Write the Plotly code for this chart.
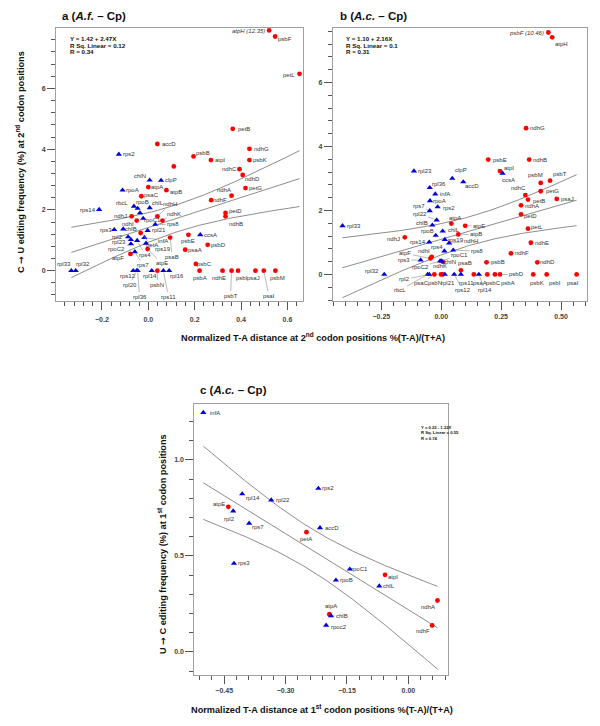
import numpy as np
import plotly.graph_objects as go

FONT = "Liberation Sans, Arial, sans-serif"
RED = "#ff0000"
BLUE = "#0000dd"

# ---------------- Panel a (A.f. - Cp), 2nd codon positions ----------------
a_genes = ["atpH (12.35)", "psbF", "petL", "petB", "accD", "ndhG", "psbB", "atpI", "psbK", "",
           "ndhC", "ndhD", "atpA", "petG", "atpB", "ndhA", "psaC", "ndhF", "petD", "ndhJ",
           "ndhH", "ndhB", "ndhI", "ndhK", "petA", "psbE", "psaB", "psbD", "atpE", "psaA",
           "atpF", "psbC", "psbN", "psbA", "ndhE", "psbT", "psbI", "psaJ", "psaI", "psbM",
           "rps2", "chlN", "clpP", "rpoA", "rpoB", "rbcL", "chlL", "rps14", "", "rpoC1",
           "rps8", "chlB", "rps3", "rpl21", "rpl2", "infA", "rpl23", "rps4", "rps19", "rpoC2",
           "ccsA", "rps7", "rpl33", "rpl32", "rps12", "rpl20", "rpl36", "rpl14", "rps11", "rpl16"]
a_x = [0.521, 0.547, 0.652, 0.364, 0.039, 0.436, 0.195, 0.270, 0.436, 0.110,
       0.393, 0.407, 0.000, 0.419, 0.078, 0.359, -0.030, 0.271, 0.333, -0.072,
       0.039, 0.333, -0.050, 0.061, -0.033, 0.173, 0.094, 0.256, -0.003, 0.159,
       -0.077, 0.205, 0.039, 0.221, 0.320, 0.359, 0.387, 0.462, 0.498, 0.548,
       -0.127, 0.006, 0.055, -0.111, -0.046, -0.062, 0.006, -0.212, -0.036, -0.022,
       0.030, -0.108, -0.147, -0.003, -0.087, -0.017, -0.075, -0.048, -0.010, -0.075,
       0.224, -0.058, -0.332, -0.313, -0.065, -0.050, -0.046, 0.015, 0.065, 0.090]
a_y = [7.91, 7.71, 6.48, 4.67, 4.17, 4.01, 3.76, 3.64, 3.64, 3.43,
       3.34, 3.15, 2.75, 2.72, 2.65, 2.47, 2.45, 2.32, 1.90, 1.79,
       1.79, 1.79, 1.65, 1.65, 1.24, 1.18, 1.09, 0.85, 0.71, 0.69,
       0.55, 0.22, 0.0, 0.0, 0.0, 0.0, 0.0, 0.0, 0.0, 0.0,
       3.83, 2.98, 2.97, 2.65, 2.05, 2.12, 2.07, 2.01, 1.90, 1.72,
       1.52, 1.37, 1.35, 1.32, 1.11, 1.09, 1.02, 0.99, 0.90, 0.88,
       1.18, 0.62, 0.0, 0.0, 0.0, 0.0, 0.0, 0.0, 0.0, 0.0]
a_type = ["P"] * 40 + ["G"] * 30
a_stats = ["Y = 1.42 + 2.47X", "R Sq. Linear = 0.12", "R = 0.34"]
a_fit = (1.42, 2.47)

# ---------------- Panel b (A.c. - Cp), 2nd codon positions ----------------
b_genes = ["psbF (10.46)", "atpH", "ndhG", "psbE", "ndhB", "atpI", "psbT", "psbM", "petG", "ndhC",
           "psaJ", "petB", "ndhA", "petD", "atpA", "atpE", "petL", "atpB", "ndhJ", "ndhE",
           "ndhF", "ndhI", "atpF", "chlN", "ndhD", "psbB", "psaB", "psaC", "psbN", "ndhK",
           "psaA", "psbC", "psbA", "psbD", "psbK", "psbI", "psaI",
           "ccsA", "rpl23", "clpP", "accD", "rpl36", "infA", "rpoA", "rps2", "rps7", "rpl22",
           "rpl33", "chlB", "chlL", "rpoB", "rps19", "rps14", "ndhH", "rps8", "rps4", "rps3",
           "rpoC2", "rpoC1", "rpl32", "rbcL", "rpl2", "rpl21", "rps12", "rps11", "rpl14"]
b_x = [0.447, 0.463, 0.354, 0.196, 0.367, 0.245, 0.454, 0.415, 0.415, 0.351,
       0.482, 0.362, 0.333, 0.333, 0.042, 0.100, 0.362, 0.071, -0.152, 0.374,
       0.291, -0.040, -0.045, 0.008, 0.401, 0.189, 0.082, -0.029, -0.001, 0.006,
       0.136, 0.192, 0.224, 0.245, 0.384, 0.440, 0.565,
       0.256, -0.114, 0.046, 0.092, -0.048, -0.025, -0.047, -0.015, -0.048, -0.019,
       -0.412, -0.037, 0.006, -0.023, 0.015, -0.050, 0.033, 0.050, 0.013, -0.086,
       -0.005, 0.002, -0.238, -0.057, -0.050, 0.015, 0.054, 0.082, 0.157]
b_y = [7.56, 7.41, 4.57, 3.59, 3.59, 3.23, 2.93, 2.86, 2.60, 2.48,
       2.36, 2.34, 2.16, 1.88, 1.59, 1.52, 1.43, 1.25, 1.16, 0.99,
       0.66, 0.55, 0.50, 0.39, 0.38, 0.38, 0.13, 0.0, 0.0, 0.0,
       0.0, 0.0, 0.0, 0.0, 0.0, 0.0, 0.0,
       3.16, 3.23, 3.00, 2.89, 2.71, 2.51, 2.30, 2.11, 1.99, 1.70,
       1.52, 1.54, 1.35, 1.22, 1.09, 1.01, 0.98, 0.76, 0.73, 0.45,
       0.42, 0.42, 0.0, 0.0, 0.0, 0.0, 0.0, 0.0, 0.0]
b_type = ["P"] * 37 + ["G"] * 29
b_stats = ["Y = 1.10 + 2.16X", "R Sq. Linear = 0.1", "R = 0.31"]
b_fit = (1.10, 2.16)

# ---------------- Panel c (A.c. - Cp), 1st codon positions ----------------
c_genes = ["infA", "rps2", "rpl14", "rpl22", "rpl2", "rps7", "accD", "rps3", "rpoC1", "rpoB",
           "chlL", "chlB", "rpoc2", "atpE", "petA", "atpI", "atpA", "ndhA", "ndhF"]
c_x = [-0.501, -0.220, -0.406, -0.335, -0.428, -0.389, -0.216, -0.426, -0.143, -0.177,
       -0.071, -0.189, -0.201, -0.440, -0.249, -0.057, -0.193, 0.071, 0.058]
c_y = [1.247, 0.852, 0.823, 0.791, 0.734, 0.670, 0.647, 0.461, 0.431, 0.374,
       0.343, 0.188, 0.139, 0.756, 0.624, 0.402, 0.197, 0.268, 0.138]
c_type = ["G"] * 13 + ["P"] * 6
c_stats = ["Y = 0.22 - 1.32X", "R Sq. Linear = 0.55", "R = 0.74"]
c_fit = (0.22, -1.32)

# confidence band shape (centre, base variance, curvature) per panel
bands = {"a": (0.125, 0.20, 2.33), "b": (0.13, 0.20, 2.30), "c": (-0.24, 0.012, 0.357)}

# ---------------- label placement (pixel offsets, leader line) ----------------
a_lab = {
    "atpH (12.35)": (-21, 1, 0), "psbF": (10, 3, 0), "petL": (-11, 1, 0), "petB": (11, 0, 0),
    "accD": (12, 0, 0), "ndhG": (12, 0, 0), "psbB": (9, -3, 0), "atpI": (9, 0, 0),
    "psbK": (11, 0, 0), "ndhC": (-10, 0, 0), "ndhD": (10, 4, 0), "atpA": (9, 0, 0),
    "petG": (10, 0, 0), "atpB": (10, 2, 0), "ndhA": (-8, -6, 0), "psaC": (10, -1, 0),
    "ndhF": (9, 0, 0), "petD": (10, -2, 0), "ndhJ": (-11, 0, 0), "ndhH": (13, -12, 1),
    "ndhB": (10, 8, 0), "ndhI": (-9, 3, 0), "ndhK": (12, -7, 1), "petA": (11, 12, 1),
    "psbE": (0, 6, 0), "psaB": (2, 19, 1), "psbD": (11, 0, 0), "atpE": (14, 14, 1),
    "psaA": (10, 0, 0), "atpF": (-12, 4, 0), "psbC": (9, 0, 0), "psbN": (0, 14, 1),
    "psbA": (0, 7, 0), "ndhE": (-4, 7, 0), "psbT": (-1, 25, 1), "psbI": (4, 7, 0),
    "psaJ": (-2, 7, 0), "psaI": (5, 25, 1), "psbM": (2, 7, 0),
    "rps2": (10, 0, 0), "chlN": (-10, -4, 0), "clpP": (10, 0, 0), "rpoA": (10, 0, 0),
    "rpoB": (5, -6, 0), "rbcL": (-12, -3, 0), "chlL": (8, -5, 0), "rps14": (-11, 0, 0),
    "rpoC1": (9, 2, 0), "rps8": (18, 0, 1), "chlB": (8, 0, 0), "rps3": (-8, 0, 0),
    "rpl21": (11, -1, 1), "rpl2": (-11, 0, 0), "infA": (19, 3, 1), "rpl23": (-12, 2, 1),
    "rps4": (8, 14, 1), "rps19": (17, 6, 1), "rpoC2": (-14, 5, 1), "ccsA": (10, 0, 0),
    "rps7": (8, 13, 1), "rpl33": (-7, -7, 0), "rpl32": (7, -7, 0), "rps12": (-5, 5, 0),
    "rpl20": (-7, 14, 1), "rpl36": (2, 26, 1), "rpl14": (-2, 5, 0), "rps11": (5, 26, 1),
    "rpl16": (8, 5, 0),
}
b_lab = {
    "psbF (10.46)": (-22, 1, 0), "atpH": (9, 7, 0), "ndhG": (11, 0, 0), "psbE": (12, 0, 0),
    "ndhB": (11, 0, 0), "atpI": (9, -3, 0), "psbT": (10, -7, 0), "psbM": (-5, -8, 0),
    "petG": (12, 0, 0), "ndhC": (-7, -7, 0), "psaJ": (11, 0, 0), "petB": (11, 1, 0),
    "ndhA": (11, 1, 0), "petD": (9, 2, 0), "atpA": (4, -6, 0), "atpE": (14, 0, 1),
    "petL": (9, -2, 0), "atpB": (18, 0, 1), "ndhJ": (-11, 2, 0), "ndhE": (11, 0, 0),
    "ndhF": (11, 0, 0), "ndhI": (-8, -6, 0), "atpF": (-25, -5, 1), "chlN": (7, 0, 0),
    "ndhD": (10, 0, 0), "psbB": (11, 0, 0), "psaB": (4, -7, 0), "psaC": (-13, 9, 1),
    "psbN": (-6, 9, 0), "ndhK": (-3, -8, 0), "psaA": (6, 9, 0), "psbC": (6, 9, 0),
    "psbA": (13, 9, 1), "psbD": (17, 0, 1), "psbK": (4, 9, 0), "psbI": (8, 9, 0),
    "psaI": (-4, 9, 0),
    "ccsA": (6, 7, 0), "rpl23": (11, 0, 0), "clpP": (9, -8, 0), "accD": (9, 4, 0),
    "rpl36": (9, -4, 0), "infA": (10, 0, 0), "rpoA": (10, 0, 0), "rps2": (11, 1, 0),
    "rps7": (-11, -5, 1), "rpl22": (-17, -6, 1), "rpl33": (11, 0, 0), "chlB": (-10, -2, 0),
    "chlL": (11, -1, 1), "rpoB": (-8, -4, 0), "rps19": (11, 0, 0), "rps14": (-11, 0, 0),
    "ndhH": (22, -2, 1), "rps8": (24, 1, 1), "rps4": (-7, -4, 0), "rps3": (-17, 0, 1),
    "rpoC2": (-20, 6, 1), "rpoC1": (18, -6, 1), "rpl32": (-12, -3, 0), "rbcL": (-28, 16, 1),
    "rpl2": (-25, 5, 1), "rpl21": (3, 9, 0), "rps12": (9, 16, 1), "rps11": (6, 9, 0),
    "rpl14": (6, 16, 1),
}
c_lab = {
    "infA": (12, 0, 0), "rps2": (10, 0, 0), "rpl14": (11, 4, 0), "rpl22": (12, 0, 0),
    "rpl2": (-4, 8, 0), "rps7": (9, 4, 0), "accD": (12, 0, 0), "rps3": (10, 0, 0),
    "rpoC1": (10, 0, 0), "rpoB": (11, 0, 0), "chlL": (10, 0, 0), "chlB": (11, 0, 1),
    "rpoc2": (13, 2, 0), "atpE": (-9, -3, 0), "petA": (0, 7, 0), "atpI": (8, 2, 0),
    "atpA": (2, -8, 0), "ndhA": (-9, 6, 0), "ndhF": (-9, 6, 0),
}
italic_labels = {"atpH (12.35)", "psbF (10.46)"}

fig = go.Figure()
annotations = []


def add_panel(key, xs, ys, types, genes, labels, fit, xa, ya):
    xr = "x" if xa == 1 else "x%d" % xa
    yr = "y" if ya == 1 else "y%d" % ya
    xs = np.array(xs)
    ys = np.array(ys)
    # regression line + confidence curves
    xm, c0, c1 = bands[key]
    xl = np.linspace(xs.min(), xs.max(), 120)
    yl = fit[0] + fit[1] * xl
    w = np.sqrt(c0 + c1 * (xl - xm) ** 2)
    for yy in (yl + w, yl, yl - w):
        fig.add_trace(go.Scatter(x=xl, y=yy, mode="lines", xaxis=xr, yaxis=yr,
                                 line=dict(color="#707070", width=0.8), hoverinfo="skip"))
    t = np.array(types)
    for kind, col, sym, sz in (("P", RED, "circle", 4.8), ("G", BLUE, "triangle-up", 5.5)):
        m = t == kind
        fig.add_trace(go.Scatter(x=xs[m], y=ys[m], mode="markers", xaxis=xr, yaxis=yr,
                                 marker=dict(color=col, symbol=sym, size=sz, line=dict(width=0))))
    for g, x, y in zip(genes, xs, ys):
        if not g or g not in labels:
            continue
        dx, dy, lead = labels[g]
        txt = "<i>%s</i>" % g if g in italic_labels else g
        annotations.append(dict(
            x=x, y=y, xref=xr, yref=yr, text=txt, showarrow=True, ax=dx, ay=dy,
            arrowhead=0, arrowwidth=0.6, standoff=2,
            arrowcolor="#8a8a8a" if lead else "rgba(0,0,0,0)",
            font=dict(family=FONT, size=6, color="#333333")))


add_panel("a", a_x, a_y, a_type, a_genes, a_lab, a_fit, 1, 1)
add_panel("b", b_x, b_y, b_type, b_genes, b_lab, b_fit, 2, 2)
add_panel("c", c_x, c_y, c_type, c_genes, c_lab, c_fit, 3, 3)


def axis(rng, dtick, mdtick, fmt, domain, anchor, standoff=0):
    return dict(range=rng, domain=domain, anchor=anchor, dtick=dtick, tick0=0, tickformat=fmt,
                showgrid=False, zeroline=False, showline=True, linecolor="#a0a0a0",
                linewidth=1, mirror=True, ticks="outside", ticklen=8, tickwidth=1,
                tickcolor="#555555", ticklabelstandoff=standoff,
                minor=dict(dtick=mdtick, tick0=0, ticks="outside", ticklen=4,
                           tickwidth=1, tickcolor="#555555", showgrid=False),
                tickfont=dict(family=FONT, size=7, color="#444444", weight="bold"))


H = 726.0
W = 600.0


def px_x(p):
    return p / W


def px_y(p):
    return 1 - p / H


fig.update_layout(
    width=600, height=726, margin=dict(l=0, r=0, t=0, b=0),
    paper_bgcolor="white", plot_bgcolor="white", showlegend=False,
    xaxis=axis([-0.398, 0.667], 0.2, 0.04, ".1f", [px_x(56), px_x(303)], "y", 4),
    yaxis=axis([-1.0, 7.99], 2, 0.4, ".0f", [px_y(301), px_y(28)], "x"),
    xaxis2=axis([-0.453, 0.607], 0.25, 0.05, ".2f", [px_x(332.7), px_x(586.7)], "y2", 1),
    yaxis2=axis([-0.82, 7.7], 2, 0.4, ".0f", [px_y(300.7), px_y(28)], "x2"),
    xaxis3=axis([-0.523, 0.096], 0.15, 0.03, ".2f", [px_x(194.3), px_x(447.7)], "y3", 1),
    yaxis3=axis([-0.12, 1.29], 0.5, 0.1, ".1f", [px_y(675), px_y(404.3)], "x3"),
)


def paper_text(text, x, y, size, xanchor="left", angle=0, bold=True):
    annotations.append(dict(
        text="<b>%s</b>" % text if bold else text, x=px_x(x), y=px_y(y),
        xref="paper", yref="paper", showarrow=False, xanchor=xanchor, yanchor="middle",
        textangle=angle, font=dict(family=FONT, size=size, color="#111111")))


ARROW = "<span style='font-family:DejaVu Sans'>→</span>"

# panel titles
paper_text("a (<i>A.f.</i> – Cp)", 60, 16, 11.5)
paper_text("b (<i>A.c.</i> – Cp)", 338, 16, 11.5)
paper_text("c (<i>A.c.</i> – Cp)", 198, 390, 11.5)

# axis titles
paper_text("Normalized T-A distance at 2<sup>nd</sup> codon positions %(T-A)/(T+A)", 313, 337, 9.2, "center")
paper_text("C " + ARROW + " U editing frequency (%) at 2<sup>nd</sup> codon positions", 20, 162, 9.2, "center", -90)
paper_text("Normalized T-A distance at 1<sup>st</sup> codon positions %(T-A)/(T+A)", 322, 709, 9.2, "center")
paper_text("U " + ARROW + " C editing frequency (%) at 1<sup>st</sup> codon positions", 162, 544, 9.2, "center", -90)

# regression statistics
for i, s in enumerate(a_stats):
    paper_text(s, 68, 38.3 + 6.7 * i, 6.2)
for i, s in enumerate(b_stats):
    paper_text(s, 344, 38.3 + 6.7 * i, 6.2)
for i, s in enumerate(c_stats):
    paper_text(s, 419, 427.7 + 5.2 * i, 4.2)

fig.update_layout(annotations=annotations)
fig.write_html("out.html", config={"displayModeBar": False},
               post_script="document.body.style.margin='0px';")
